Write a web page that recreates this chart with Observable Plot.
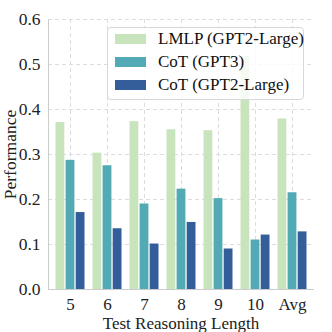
<!DOCTYPE html>
<html>
<head>
<meta charset="utf-8">
<script src="https://cdn.jsdelivr.net/npm/d3@7"></script>
<script src="https://cdn.jsdelivr.net/npm/@observablehq/plot@0.6"></script>
<style>
  html, body { margin: 0; padding: 0; background: #fff; }
  #wrap { position: relative; width: 332px; height: 332px; overflow: hidden; }
  #wrap svg text { font-family: "Liberation Serif", "Tinos", "Times New Roman", Times, "DejaVu Serif", serif; }
  .legend { position: absolute; left: 107px; top: 27px; width: 197px; height: 73px;
    box-sizing: border-box; border: 1px solid #d8d8d8; border-radius: 4px;
    background: rgba(255,255,255,0.82); font-family: "Liberation Serif", "Tinos", "Times New Roman", Times, "DejaVu Serif", serif;
    font-size: 17px; color: #111; }
  .legend .row { position: absolute; left: 7px; height: 22px; display: flex; align-items: center; white-space: nowrap; }
  .legend .sw { width: 31px; height: 10px; margin-right: 12px; }
</style>
</head>
<body>
<div id="wrap"></div>
<script>
const categories = ["5", "6", "7", "8", "9", "10", "Avg"];
const seriesNames = ["LMLP (GPT2-Large)", "CoT (GPT3)", "CoT (GPT2-Large)"];
const seriesColors = ["#c8e4bc", "#52aab5", "#335e99"];
const lmlpGpt2 = [0.371, 0.303, 0.373, 0.355, 0.353, 0.518, 0.379];
const cotGpt3 = [0.287, 0.275, 0.190, 0.223, 0.202, 0.110, 0.215];
const cotGpt2 = [0.171, 0.135, 0.101, 0.149, 0.090, 0.121, 0.128];
const yTicks = [0, 0.1, 0.2, 0.3, 0.4, 0.5, 0.6];

const seriesValues = [lmlpGpt2, cotGpt3, cotGpt2];
const W = 332, H = 332, mL = 48, mR = 19, mT = 19, mB = 43;
const padInner = 0.2, padOuter = 0.1;
const step = (W - mL - mR) / (categories.length - padInner + 2 * padOuter);
const bw = step * (1 - padInner);
const sub = bw / seriesNames.length;

const barMarks = seriesValues.map((vals, i) => {
  const rows = categories.map((c, j) => ({cat: c, value: vals[j]}));
  return Plot.barY(rows, {
    x: "cat", y: "value", fill: seriesColors[i],
    insetLeft: i * sub + 0.5, insetRight: (seriesNames.length - 1 - i) * sub + 0.5
  });
});

const chart = Plot.plot({
  width: W, height: H,
  marginLeft: mL, marginRight: mR, marginTop: mT, marginBottom: mB,
  style: {fontSize: "17px", color: "#222", background: "#fff"},
  x: {domain: categories, paddingInner: padInner, paddingOuter: padOuter, label: null},
  y: {domain: [0, 0.6], ticks: yTicks, label: null},
  marks: [
    Plot.gridY(yTicks.slice(1), {stroke: "#dcdcdc", strokeOpacity: 1, strokeDasharray: "4,3"}),
    Plot.gridX({stroke: "#dcdcdc", strokeOpacity: 1, strokeDasharray: "4,3"}),
    ...barMarks,
    Plot.frame({anchor: "left", stroke: "#cccccc", strokeOpacity: 1}),
    Plot.frame({anchor: "bottom", stroke: "#cccccc", strokeOpacity: 1}),
    Plot.axisY(yTicks, {tickSize: 0, tickPadding: 8, tickFormat: d => d.toFixed(1), fontSize: 17.5,
      label: "Performance", labelAnchor: "center", labelOffset: 45, labelArrow: "none"}),
    Plot.axisX({tickSize: 0, tickPadding: 8, fontSize: 17,
      label: "Test Reasoning Length", labelAnchor: "center", labelOffset: 39, labelArrow: "none"})
  ]
});
const wrap = document.getElementById("wrap");
wrap.appendChild(chart);

const legend = document.createElement("div");
legend.className = "legend";
seriesNames.forEach((name, i) => {
  const row = document.createElement("div");
  row.className = "row";
  row.style.top = (0 + i * 23) + "px";
  const sw = document.createElement("div");
  sw.className = "sw";
  sw.style.background = seriesColors[i];
  const t = document.createElement("span");
  t.textContent = name;
  row.appendChild(sw); row.appendChild(t);
  legend.appendChild(row);
});
wrap.appendChild(legend);
</script>
</body>
</html>
